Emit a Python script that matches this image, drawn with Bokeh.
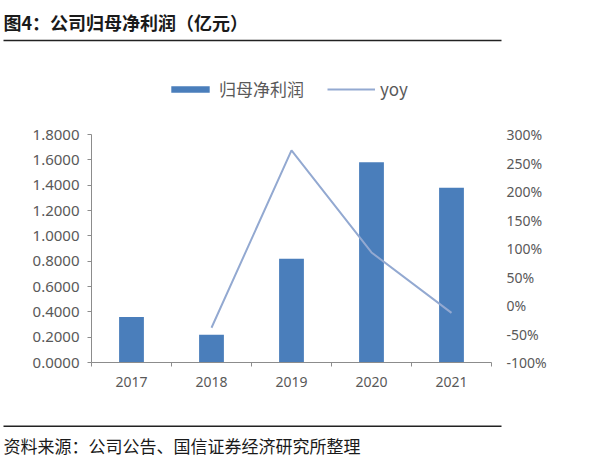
from bokeh.plotting import figure
from bokeh.layouts import column
from bokeh.models import (Range1d, LinearAxis, FixedTicker, NumeralTickFormatter,
                          Legend, LegendItem, Label, BoxAnnotation, ColumnDataSource)
from bokeh.embed import file_html
from bokeh.resources import INLINE

# ---- data ----
years = ["2017", "2018", "2019", "2020", "2021"]
profit = [0.36, 0.22, 0.82, 1.58, 1.38]          # 归母净利润 (亿元)
yoy = [float("nan"), -0.39, 2.72, 0.93, -0.13]    # yoy
left_ticks = [0.0, 0.2, 0.4, 0.6, 0.8, 1.0, 1.2, 1.4, 1.6, 1.8]
right_ticks = [-1.0, -0.5, 0.0, 0.5, 1.0, 1.5, 2.0, 2.5, 3.0]

title_text = "图4：公司归母净利润（亿元）"
source_text = "资料来源：公司公告、国信证券经济研究所整理"
series_names = ["归母净利润", "yoy"]

xs = [i + 0.5 for i in range(len(years))]
src = ColumnDataSource(dict(x=xs, profit=profit, yoy=yoy))

BAR = "#4A7EBB"
LINE = "#93A9D1"
GRAY = "#595959"
AXIS = "#8C8C8C"
INK = "#1a1a1a"
CJK = "Noto Sans CJK SC"
NUM = "Noto Sans"
W = 600
H_HEAD, H_MAIN, H_FOOT = 110, 290, 60
NAN = float("nan")


def blank(h):
    f = figure(width=W, height=h, output_backend="svg", toolbar_location=None,
               x_range=Range1d(0, W), y_range=Range1d(0, h),
               x_axis_type=None, y_axis_type=None,
               min_border=0, min_border_left=0, min_border_right=0,
               min_border_top=0, min_border_bottom=0,
               outline_line_color=None, frame_align=False)
    f.grid.visible = False
    return f


# ---- header: title, rule, legend ----
head = blank(H_HEAD)
head.add_layout(Label(x=3, y=H_HEAD - 21, text=title_text,
                      text_font=CJK, text_font_size="18px", text_font_style="bold",
                      text_color=INK, text_baseline="middle", text_align="left"))
head.add_layout(BoxAnnotation(left=3, right=501, bottom=H_HEAD - 40.75, top=H_HEAD - 39.25,
                              fill_color="#222222", fill_alpha=1, line_color=None))
# legend swatches only (no visible marks: NaN placeholders)
key_bar = head.vbar(x=[NAN], top=[NAN], width=1, fill_color=BAR, line_color=None)
key_line = head.line(x=[NAN], y=[NAN], line_color=LINE, line_width=2)
legend = Legend(items=[LegendItem(label=series_names[0], renderers=[key_bar]),
                       LegendItem(label=series_names[1], renderers=[key_line])],
                orientation="horizontal", location=(166, 9),
                border_line_color=None, background_fill_alpha=0,
                padding=0, margin=0, spacing=23, label_standoff=5,
                glyph_width=48, glyph_height=8,
                label_text_font=CJK, label_text_font_size="17px",
                label_text_color=GRAY)
head.add_layout(legend, "center")

# ---- main chart ----
p = figure(width=W, height=H_MAIN, output_backend="svg", toolbar_location=None,
           x_range=Range1d(0, len(years)), y_range=Range1d(left_ticks[0], left_ticks[-1]),
           min_border_left=91, min_border_right=109, min_border_top=24, min_border_bottom=38,
           outline_line_color=None, background_fill_color="white", frame_align=False)
p.grid.visible = False
p.extra_y_ranges = {"yoy": Range1d(right_ticks[0], right_ticks[-1])}

p.vbar(x="x", top="profit", width=0.31, bottom=0, source=src,
       fill_color=BAR, line_color=None)
p.line(x="x", y="yoy", source=src, y_range_name="yoy",
       line_color=LINE, line_width=2)

xa = p.xaxis[0]
xa.ticker = FixedTicker(ticks=xs, minor_ticks=list(range(len(years) + 1)))
xa.major_label_overrides = {x: y for x, y in zip(xs, years)}
xa.major_tick_out = 0
xa.major_tick_in = 0
xa.minor_tick_out = 4
xa.minor_tick_in = 0
xa.minor_tick_line_color = AXIS
xa.axis_line_color = AXIS
xa.major_label_standoff = 10
xa.major_label_text_font = NUM
xa.major_label_text_font_size = "14px"
xa.major_label_text_color = GRAY

ya = p.yaxis[0]
ya.ticker = FixedTicker(ticks=left_ticks)
ya.formatter = NumeralTickFormatter(format="0.0000")
ya.minor_tick_line_color = None
ya.major_tick_out = 4
ya.major_tick_in = 0
ya.major_tick_line_color = AXIS
ya.axis_line_color = AXIS
ya.major_label_standoff = 8
ya.major_label_text_font = NUM
ya.major_label_text_font_size = "15px"
ya.major_label_text_color = GRAY

ra = LinearAxis(y_range_name="yoy", ticker=FixedTicker(ticks=right_ticks),
                formatter=NumeralTickFormatter(format="0%"))
ra.axis_line_color = None
ra.major_tick_line_color = None
ra.minor_tick_line_color = None
ra.major_label_standoff = 9
ra.major_label_text_font = NUM
ra.major_label_text_font_size = "14px"
ra.major_label_text_color = GRAY
p.add_layout(ra, "right")

# ---- footer: rule and source ----
foot = blank(H_FOOT)
foot.add_layout(BoxAnnotation(left=3, right=501, bottom=33.5, top=35,
                              fill_color="#222222", fill_alpha=1, line_color=None))
foot.add_layout(Label(x=3, y=15, text=source_text,
                      text_font=CJK, text_font_size="17px",
                      text_color=INK, text_baseline="middle", text_align="left"))

layout = column(head, p, foot, spacing=0)
open("out.html", "w").write(file_html(layout, INLINE))
